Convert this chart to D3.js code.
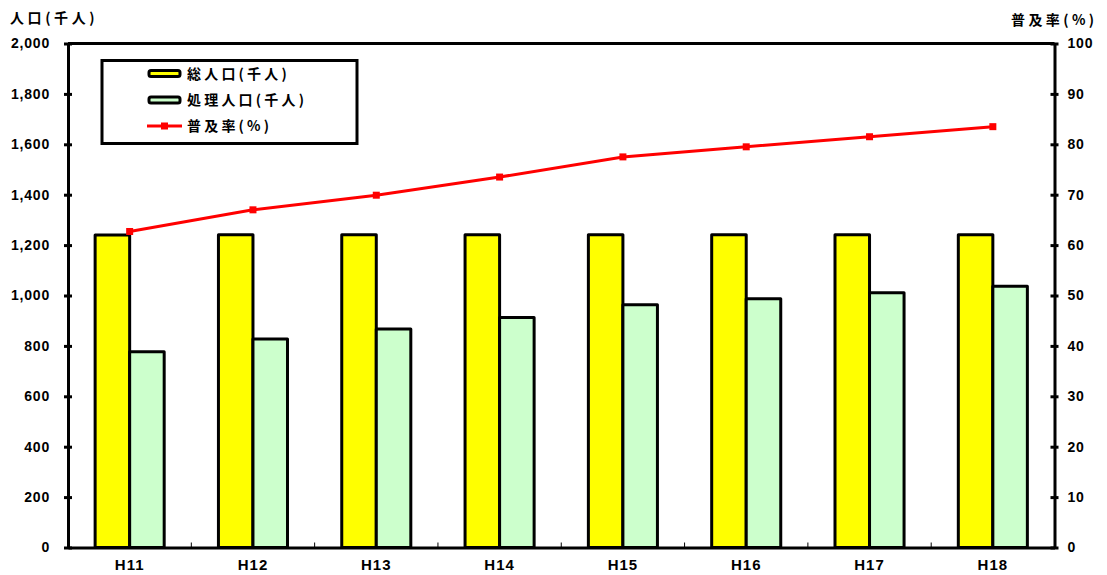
<!DOCTYPE html>
<html><head><meta charset="utf-8">
<script src="https://cdn.jsdelivr.net/npm/d3@7"></script>
<style>
body{margin:0;background:#fff;}
text{font-family:"Liberation Sans",Arial,sans-serif;font-weight:bold;fill:#000;}
.jp{font-family:"Noto Sans CJK JP","Liberation Sans",sans-serif;font-weight:bold;}
</style></head>
<body><svg id="c" width="1107" height="575"></svg>
<script>
const categories = ["H11","H12","H13","H14","H15","H16","H17","H18"];
const totalPop = [1240,1241,1241,1241,1241,1241,1241,1241];
const servedPop = [777,827,867,913,963,987,1011,1037];
const rate = [62.7,67.0,69.9,73.5,77.5,79.5,81.5,83.5];
const leftTicks = [0,200,400,600,800,1000,1200,1400,1600,1800,2000];
const rightTicks = [0,10,20,30,40,50,60,70,80,90,100];
const seriesNames = ["総人口(千人)","処理人口(千人)","普及率(%)"];

const svg = d3.select("#c");
const L=68, R=1054.5, T=43.5, B=547.5;

const x = d3.scaleBand().domain(categories).range([L,R]).paddingInner(0.44).paddingOuter(0.22);
const xs = d3.scaleBand().domain([0,1]).range([0,x.bandwidth()]);
const yL = d3.scaleLinear().domain([0,2000]).range([B,T]);
const yR = d3.scaleLinear().domain([0,100]).range([B,T]);

// bars
const g = svg.append("g");
categories.forEach((c,i)=>{
  [[totalPop[i],"#FFFF00"],[servedPop[i],"#CCFFCC"]].forEach(([v,col],k)=>{
    g.append("rect").attr("x",x(c)+xs(k)).attr("y",yL(v)).attr("width",xs.bandwidth())
     .attr("height",yL(0)-yL(v)).attr("fill",col).attr("stroke","#000").attr("stroke-width",3)
     .attr("stroke-linejoin","round");
  });
});

// frame top
svg.append("line").attr("x1",L).attr("x2",R).attr("y1",T).attr("y2",T).attr("stroke","#000").attr("stroke-width",3);

// left axis
const la = svg.append("g").attr("transform",`translate(${L},0)`)
  .call(d3.axisLeft(yL).tickValues(leftTicks).tickFormat(d3.format(",")).tickSize(0).tickPadding(18));
la.select(".domain").attr("stroke","#000").attr("stroke-width",3);
la.selectAll("text").style("font-size","14px").style("letter-spacing","0.8px");
la.selectAll(".tick").append("line").attr("x1",-4).attr("x2",4).attr("stroke","#000").attr("stroke-width",3);

// right axis
const ra = svg.append("g").attr("transform",`translate(${R},0)`)
  .call(d3.axisRight(yR).tickValues(rightTicks).tickSize(0).tickPadding(13));
ra.select(".domain").attr("stroke","#000").attr("stroke-width",3);
ra.selectAll("text").style("font-size","14px").style("letter-spacing","0.8px");
ra.selectAll(".tick").append("line").attr("x1",-4).attr("x2",4).attr("stroke","#000").attr("stroke-width",3);

// bottom axis
const ba = svg.append("g").attr("transform",`translate(0,${B})`)
  .call(d3.axisBottom(x).tickSize(0).tickPadding(12));
ba.select(".domain").attr("stroke","#000").attr("stroke-width",3);
ba.selectAll("text").style("font-size","15px").style("letter-spacing","1px");
const step = x.step();
categories.slice(1).forEach((c,i)=>{
  const bx = x(c) - x.paddingInner()*step/2;
  ba.append("line").attr("x1",bx).attr("x2",bx).attr("y1",0).attr("y2",-5).attr("stroke","#000").attr("stroke-width",1);
});

// line
const cx = c => x(c)+x.bandwidth()/2;
svg.append("path").datum(rate).attr("fill","none").attr("stroke","#FF0000").attr("stroke-width",3)
  .attr("d",d3.line().x((d,i)=>cx(categories[i])).y(d=>yR(d)));
svg.selectAll(".mk").data(rate).enter().append("rect")
  .attr("x",(d,i)=>cx(categories[i])-3.5).attr("y",d=>yR(d)-3.5).attr("width",7).attr("height",7).attr("fill","#FF0000");

// axis titles
svg.append("text").attr("class","jp").attr("x",10).attr("y",23).style("font-size","14px").style("letter-spacing","3.6px").text("人口(千人)");
svg.append("text").attr("class","jp").attr("x",1011).attr("y",25).style("font-size","14px").style("letter-spacing","3.4px").text("普及率(%)");

// legend
const lg = svg.append("g");
lg.append("rect").attr("x",102).attr("y",60.5).attr("width",255).attr("height",83).attr("fill","#fff").attr("stroke","#000").attr("stroke-width",3);
const rows=[73.5,100,126];
[["#FFFF00"],["#CCFFCC"]].forEach(([col],k)=>{
  lg.append("rect").attr("x",149).attr("y",rows[k]-3).attr("width",31).attr("height",6).attr("rx",2)
    .attr("fill",col).attr("stroke","#000").attr("stroke-width",3);
});
lg.append("line").attr("x1",147).attr("x2",182).attr("y1",rows[2]).attr("y2",rows[2]).attr("stroke","#FF0000").attr("stroke-width",3);
lg.append("rect").attr("x",161).attr("y",rows[2]-3.5).attr("width",7).attr("height",7).attr("fill","#FF0000");
seriesNames.forEach((s,k)=>{
  lg.append("text").attr("class","jp").attr("x",187).attr("y",rows[k]+5).style("font-size","14px").style("letter-spacing","3.2px").text(s);
});
</script></body></html>
